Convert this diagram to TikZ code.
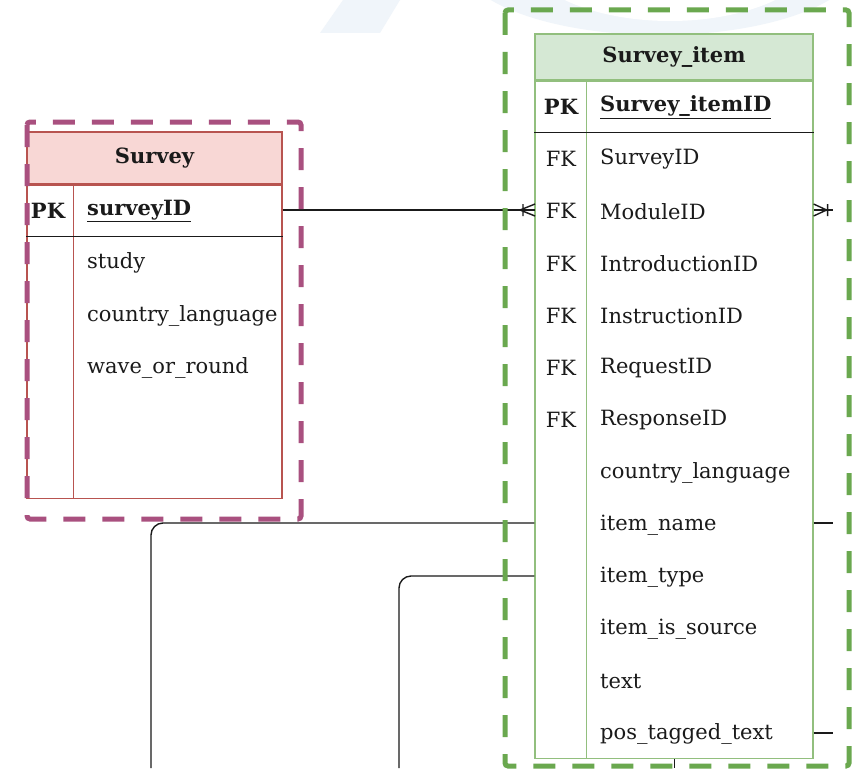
\documentclass[tikz,border=0pt]{standalone}
\usepackage{fontspec}
\setmainfont{DejaVu Serif}
\usetikzlibrary{positioning}
\definecolor{svfill}{HTML}{F8D7D5}
\definecolor{svline}{HTML}{B85450}
\definecolor{svgroup}{HTML}{A9507F}
\definecolor{sifill}{HTML}{D5E8D4}
\definecolor{siline}{HTML}{92BF7E}
\definecolor{sigroup}{HTML}{6AA84F}
\definecolor{wmblue}{HTML}{F0F5FA}
\definecolor{ink}{HTML}{1A1A1A}
\tikzset{
  tblbody/.style={draw=#1, line width=1.2pt, fill=white, inner sep=0pt, anchor=north},
  field/.style={anchor=west, inner sep=0pt, text=ink, font=\fontsize{21}{25}\selectfont},
  keycol/.style={inner sep=0pt, text=ink, font=\fontsize{21}{25}\selectfont},
  boldtxt/.style={font=\bfseries\fontsize{21}{25}\selectfont},
  link/.style={draw=ink, line width=1.4pt},
  group/.style={draw=#1, line width=5pt, dash pattern=on 22pt off 17pt, rounded corners=3pt},
}
\begin{document}
\begin{tikzpicture}[x=1pt, y=-1pt]
\useasboundingbox[fill=white] (0,0) rectangle (861,768);
% faint watermark at the top
\begin{scope}
  \clip (0,0) rectangle (861,33);
  \fill[wmblue] (320,33) -- (380,33) -- (400,0) -- (343,0) -- cycle;
  \fill[wmblue] (660,-40) ellipse [x radius=200, y radius=75];
  \fill[white] (670,-52) ellipse [x radius=150, y radius=73];
\end{scope}

% Survey table
\node[draw=svline, fill=svfill, line width=1.2pt, minimum width=255pt, minimum height=52pt,
  inner sep=0pt, boldtxt, text=ink] (sv-head) at (154.5,158) {Survey};
\node[tblbody=svline, minimum width=255pt, minimum height=313pt] (sv-body) at (sv-head.south) {};
\draw[svline, line width=1.2pt] ([xshift=47pt]sv-body.north west) -- ([xshift=47pt]sv-body.south west);
\draw[ink, line width=1.4pt] ([yshift=-52pt]sv-body.north west) -- ([yshift=-52pt]sv-body.north east);
\node[keycol, boldtxt] (sv-pk) at (48,211) {PK};
\node[field, boldtxt] (sv-id) at (87,211) {\underline{surveyID}};
\node[field] (sv-study) at (87,263) {study};
\node[field] (sv-country) at (87,316) {country\_language};
\node[field] (sv-wave) at (87,368) {wave\_or\_round};

% Survey_item table
\node[draw=siline, fill=sifill, line width=1.2pt, minimum width=278pt, minimum height=46pt,
  inner sep=0pt, boldtxt, text=ink] (si-head) at (674,57) {Survey\_item};
\node[tblbody=siline, minimum width=278pt, minimum height=677pt] (si-body) at (si-head.south) {};
\draw[siline, line width=1.2pt] ([xshift=52pt]si-body.north west) -- ([xshift=52pt]si-body.south west);
\draw[ink, line width=1.4pt] ([yshift=-52pt]si-body.north west) -- ([yshift=-52pt]si-body.north east);
\node[keycol, boldtxt] (si-pk) at (561,107) {PK};
\node[field, boldtxt] (si-id) at (600,107) {\underline{Survey\_itemID}};
\foreach \fname/\fkey [count=\i] in {SurveyID/FK, ModuleID/FK, IntroductionID/FK,
    InstructionID/FK, RequestID/FK, ResponseID/FK, country\_language/, item\_name/,
    item\_type/, item\_is\_source/, text/, pos\_tagged\_text/}
{
  \node[field] (si-\i) at (600,106.8+52.25*\i) {\fname};
  \node[keycol] (si-key-\i) at (561,106.8+52.25*\i) {\fkey};
}

% connectors
\coordinate (mod-in) at (535,210);
\coordinate (mod-end) at (833,210);
\draw[link] (sv-body.east |- mod-in) -- (mod-in);
\draw[link] ([xshift=-15pt]mod-in) -- ([yshift=6pt]mod-in)
  ([xshift=-15pt]mod-in) -- ([yshift=-6pt]mod-in)
  ([xshift=-12pt,yshift=6pt]mod-in) -- ([xshift=-12pt,yshift=-6pt]mod-in);
\draw[link] (si-body.east |- mod-in) -- (mod-end);
\draw[link] ([yshift=6pt]si-body.east |- mod-in) -- ([xshift=13pt]si-body.east |- mod-in)
  -- ([yshift=-6pt]si-body.east |- mod-in)
  ([xshift=14pt,yshift=6pt]si-body.east |- mod-in) -- ([xshift=14pt,yshift=-6pt]si-body.east |- mod-in);
\coordinate (name-down) at (151,768);
\coordinate (type-down) at (399,768);
\coordinate (name-end) at (833,523);
\coordinate (tagged-end) at (833,733);
\coordinate (item-down) at (674,768);
\draw[link, rounded corners=12pt] (si-body.west |- name-end) -| (name-down);
\draw[link, rounded corners=12pt] (si-body.west |- 0,576) -| (type-down);
\draw[link] (si-body.east |- name-end) -- (name-end);
\draw[link] (si-body.east |- tagged-end) -- (tagged-end);
\draw[link, line width=1pt] (si-body.south) -- (item-down);

% group frames
\draw[group=svgroup] (27,122) rectangle (301,519);
\draw[group=sigroup] (505,10) rectangle (849,766);
\end{tikzpicture}
\end{document}
